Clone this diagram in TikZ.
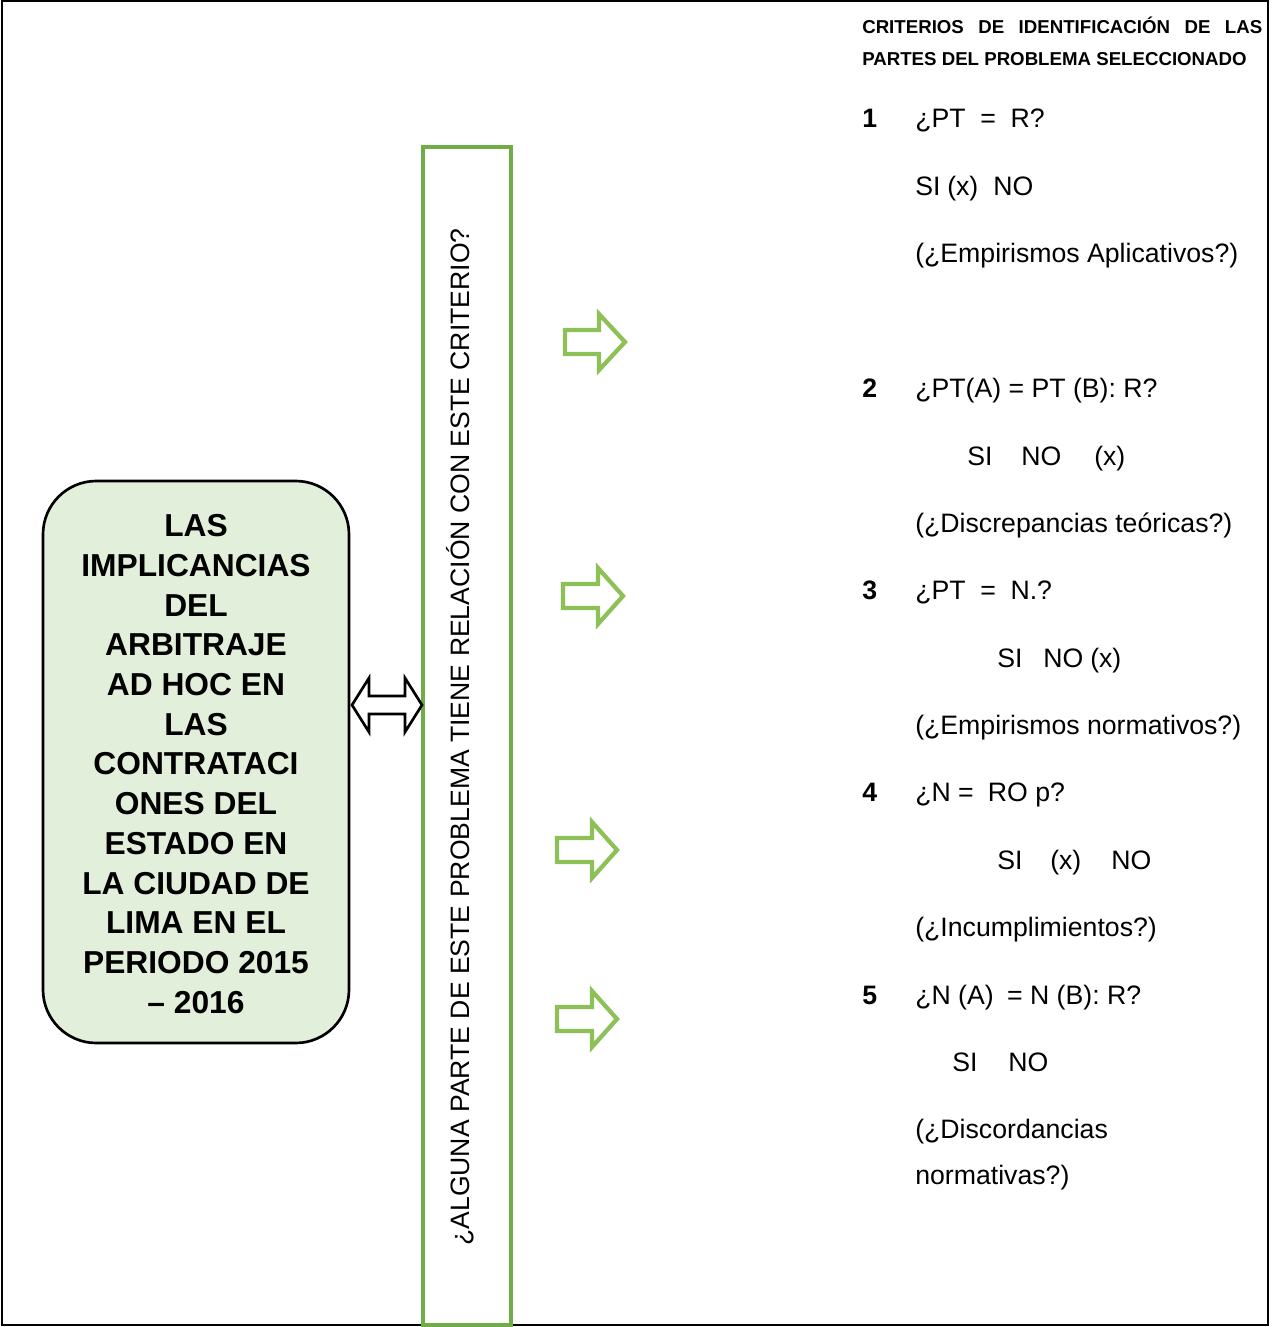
\documentclass[tikz,border=0pt]{standalone}
\usepackage{fontspec}
\setmainfont{Liberation Sans}
\definecolor{boxfill}{RGB}{226,239,218}
\definecolor{colgreen}{RGB}{112,173,71}
\definecolor{arrgreen}{RGB}{141,192,86}
\tikzset{
  txt/.style={anchor=base west, inner sep=0pt, font=\fontsize{20pt}{24pt}\selectfont},
  num/.style={txt, font=\bfseries\fontsize{20pt}{24pt}\selectfont},
  hdr/.style={anchor=base west, inner sep=0pt, font=\bfseries\fontsize{14pt}{17pt}\selectfont},
  garrow/.style={draw=arrgreen, line width=3.2pt, line join=miter, fill=white},
  barrow/.style={draw=black, line width=2pt, line join=miter, fill=white}
}
\newcommand\greenarrow[4]{%
  \draw[garrow] (#1,#4-12) -- (#2,#4-12) -- (#2,#4-28) -- (#3,#4) -- (#2,#4+28) -- (#2,#4+12) -- (#1,#4+12) -- cycle;}
\begin{document}
\begin{tikzpicture}[x=0.75pt, y=-0.75pt]
\useasboundingbox (0,0) rectangle (1271,1327);
% outer frame
\draw[line width=2pt] (2,1) rectangle (1268,1325);
% green column
\node[draw=colgreen, line width=2.3pt, minimum width=66pt, minimum height=883.5pt, inner sep=0pt] (col) at (467,736) {};
\node[rotate=90, inner sep=0pt, font=\fontsize{19.95pt}{24pt}\selectfont] (q) at (460,737) {¿ALGUNA PARTE DE ESTE PROBLEMA TIENE RELACIÓN CON ESTE CRITERIO?};
% title box
\node[draw=black, line width=2pt, fill=boxfill, rounded corners=40pt, minimum width=229.5pt, minimum height=421.5pt, inner sep=0pt] (title) at (196,762) {};
\node[align=center, inner sep=0pt, font=\bfseries\fontsize{23.8pt}{29.8pt}\selectfont] (titletext) at (196,764)
  {LAS\\IMPLICANCIAS\\DEL\\ARBITRAJE\\AD HOC EN\\LAS\\CONTRATACI\\ONES DEL\\ESTADO EN\\LA CIUDAD DE\\LIMA EN EL\\PERIODO 2015\\– 2016};
% double arrow
\draw[barrow] (352,705) -- (369,678) -- (369,696) -- (405,696) -- (405,678) -- (422,705) -- (405,732) -- (405,714) -- (369,714) -- (369,732) -- cycle;
% green arrows
\greenarrow{565}{599}{625}{342}
\greenarrow{563}{598}{623}{596}
\greenarrow{557}{592}{617}{850}
\greenarrow{557}{592}{617}{1019}
% header
\node[hdr] (h1) at (862,34) {\makebox[300pt][l]{CRITERIOS\hfill DE\hfill IDENTIFICACIÓN\hfill DE\hfill LAS}};
\node[hdr] (h2) at (862,66) {PARTES DEL PROBLEMA SELECCIONADO};
% item 1
\node[num] (n1) at (862,127.5) {1};
\node[txt] (q1) at (915,127.5) {¿PT\hspace{11pt}=\hspace{11pt}R?};
\node[txt] (si1) at (915,195.5) {SI};
\node[txt] (x1) at (947,195.5) {(x)};
\node[txt] (no1) at (993,195.5) {NO};
\node[txt] (c1) at (915,262.5) {(¿Empirismos Aplicativos?)};
% item 2
\node[num] (n2) at (862,397.5) {2};
\node[txt] (q2) at (915,397.5) {¿PT(A) = PT (B): R?};
\node[txt] (si2) at (967,465.5) {SI};
\node[txt] (no2) at (1021,465.5) {NO};
\node[txt] (x2) at (1094,465.5) {(x)};
\node[txt] (c2) at (915,532.5) {(¿Discrepancias teóricas?)};
% item 3
\node[num] (n3) at (862,599.5) {3};
\node[txt] (q3) at (915,599.5) {¿PT\hspace{11pt}=\hspace{11pt}N.?};
\node[txt] (si3) at (997,667.5) {SI};
\node[txt] (no3) at (1043,667.5) {NO};
\node[txt] (x3) at (1090,667.5) {(x)};
\node[txt] (c3) at (915,734.5) {(¿Empirismos normativos?)};
% item 4
\node[num] (n4) at (862,801.5) {4};
\node[txt] (q4) at (915,801.5) {¿N = \hspace{5pt}RO p?};
\node[txt] (si4) at (997,869.5) {SI};
\node[txt] (x4) at (1050,869.5) {(x)};
\node[txt] (no4) at (1111,869.5) {NO};
\node[txt] (c4) at (915,936.5) {(¿Incumplimientos?)};
% item 5
\node[num] (n5) at (862,1004.5) {5};
\node[txt] (q5) at (915,1004.5) {¿N (A)\hspace{10pt}= N (B): R?};
\node[txt] (si5) at (952,1071.5) {SI};
\node[txt] (no5) at (1008,1071.5) {NO};
\node[txt] (c5) at (915,1138.5) {(¿Discordancias};
\node[txt] (c5b) at (915,1184.5) {normativas?)};
\end{tikzpicture}
\end{document}
